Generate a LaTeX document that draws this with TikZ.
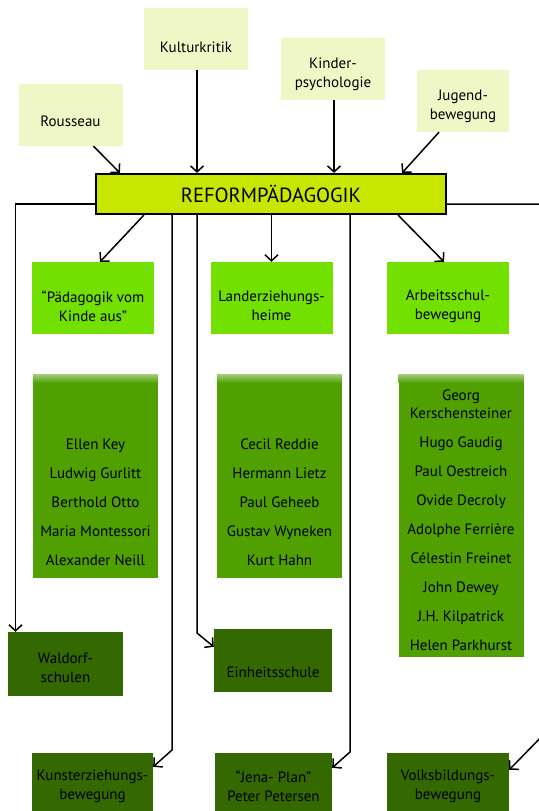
\documentclass[tikz,border=0pt]{standalone}
\usepackage{fontspec}
\setmainfont{PT Sans}
\usetikzlibrary{arrows.meta, positioning, calc}
\definecolor{c1}{HTML}{000000}
\definecolor{rootfill}{HTML}{C8E600}
\definecolor{srcfill}{HTML}{EFF7C6}
\definecolor{movefill}{HTML}{72E000}
\definecolor{namefill}{HTML}{4FA000}
\definecolor{laterfill}{HTML}{346800}

\begin{document}
\begin{tikzpicture}[
    x=1pt, y=-1pt,
    every node/.style={font=\fontsize{15}{19}\selectfont, text=c1, align=center},
    boxtext/.style 2 args={label={[yshift=#1]center:{#2}}},
    source/.style={rectangle, fill=srcfill, minimum width=104pt, minimum height=62pt, inner sep=0pt},
    root/.style={rectangle, draw=c1, fill=rootfill, line width=2.2pt,
        minimum width=350pt, minimum height=40pt, font=\fontsize{20.5}{22}\selectfont},
    move/.style={rectangle, fill=movefill, minimum width=122pt, minimum height=72pt, inner sep=0pt},
    people/.style={rectangle, fill=namefill, minimum width=125pt, inner sep=0pt},
    names/.style={font=\fontsize{15}{29}\selectfont},
    later/.style={rectangle, fill=laterfill, minimum width=120pt, minimum height=64pt, inner sep=0pt},
    arr/.style={-{Straight Barb[length=6pt, width=13pt]}, line width=1.5pt, color=c1},
]
\useasboundingbox (0,0) rectangle (538,811);

% ============================================================ the sources
\node[source, boxtext={-6pt}{Rousseau}] (rousseau) at (70.5,115) {};
\node[source, boxtext={-8pt}{Kulturkritik}] (kritik) at (196,39) {};
\node[source, boxtext={-5pt}{Kinder-\\psychologie}] (kinder) at (333,69) {};
\node[source, minimum width=92pt, boxtext={-5pt}{Jugend-\\bewegung}] (jugend) at (463,101) {};

% ============================================================ the root
\node[root] (root) at (271,194) {REFORMPÄDAGOGIK};

\draw[arr] ([xshift=23pt]rousseau.south) -- ([xshift=25pt]root.north west);
\draw[arr] ([xshift=1pt]kritik.south) -- ([xshift=1pt]kritik.south |- root.north);
\draw[arr] ([xshift=1pt]kinder.south) -- ([xshift=1pt]kinder.south |- root.north);
\draw[arr] ([xshift=-24pt]jugend.south) -- ([xshift=-45pt]root.north east);

% ============================================================ the three movements
\node[move, boxtext={-8pt}{“Pädagogik vom\\Kinde aus”}] (kind) at (93,298) {};
\node[move, boxtext={-8pt}{Landerziehungs-\\heime}] (land) at (271.5,298) {};
\node[move, boxtext={-8pt}{Arbeitsschul-\\bewegung}] (arbeit) at (448,298) {};

\draw[arr] ([xshift=49pt]root.south west) -- ([xshift=7pt]kind.north);
\draw[arr] (land.north |- root.south) -- (land.north);
\draw[arr] ([xshift=-49pt]root.south east) -- ([xshift=-4pt]arbeit.north);

% their people
\node[people, minimum height=203pt] (kindbox) at (95.5,476.5) {};
\node[people, minimum height=203pt] (landbox) at (279.5,476.5) {};
\node[people, minimum height=282pt] (arbeitbox) at (461,516) {};
\foreach \b in {kindbox, landbox, arbeitbox}{
    \shade[top color=namefill!55!white, bottom color=namefill]
        (\b.north west) rectangle ([yshift=-8pt]\b.north east);
}
\node[names] (kindnames) at (95.5,502.5)
    {Ellen Key\\Ludwig Gurlitt\\Berthold Otto\\Maria Montessori\\Alexander Neill};
\node[names] (landnames) at (279.5,502.5)
    {Cecil Reddie\\Hermann Lietz\\Paul Geheeb\\Gustav Wyneken\\Kurt Hahn};
\node[names] (arbeitnames) at (461,520)
    {Georg\\[-11pt]Kerschensteiner\\Hugo Gaudig\\Paul Oestreich\\Ovide Decroly\\
     Adolphe Ferrière\\Célestin Freinet\\John Dewey\\J.H. Kilpatrick\\Helen Parkhurst};

% ============================================================ the later branches
\node[later, minimum width=115pt, boxtext={-4pt}{Waldorf-\\schulen}] (waldorf) at (65.5,664) {};
\node[later, minimum width=118pt, minimum height=63pt,
    boxtext={-12pt}{Einheitsschule}] (einheit) at (273,660.5) {};
\node[later, minimum width=121pt, minimum height=65pt,
    boxtext={-1pt}{Kunsterziehungs-\\bewegung}] (kunst) at (92.5,785.5) {};
\node[later, minimum width=117pt, minimum height=65pt,
    boxtext={-1pt}{“Jena- Plan”\\Peter Petersen}] (jena) at (273.5,785.5) {};
\node[later, minimum width=122pt, minimum height=65pt,
    boxtext={-1pt}{Volksbildungs-\\bewegung}] (volks) at (448,785.5) {};

\coordinate (kbend) at (172,750);
\coordinate (ebend) at (197,633);
\coordinate (jbend) at (350,752);
\coordinate (vbend) at (548,730);

\draw[arr] ([yshift=-10pt]root.west) -| ([xshift=-50pt]waldorf.north);
\draw[arr] (kbend |- root.south) -- (kbend) -- ([yshift=-14pt]kunst.north east);
\draw[arr] (ebend |- root.south) -- (ebend) -- ([yshift=-18pt]einheit.north west);
\draw[arr] (jbend |- root.south) -- (jbend) -- ([yshift=-15pt]jena.north east);
\draw[arr] ([yshift=-10pt]root.east) -| (vbend) -- ([yshift=-17pt]volks.north east);

\end{tikzpicture}
\end{document}
